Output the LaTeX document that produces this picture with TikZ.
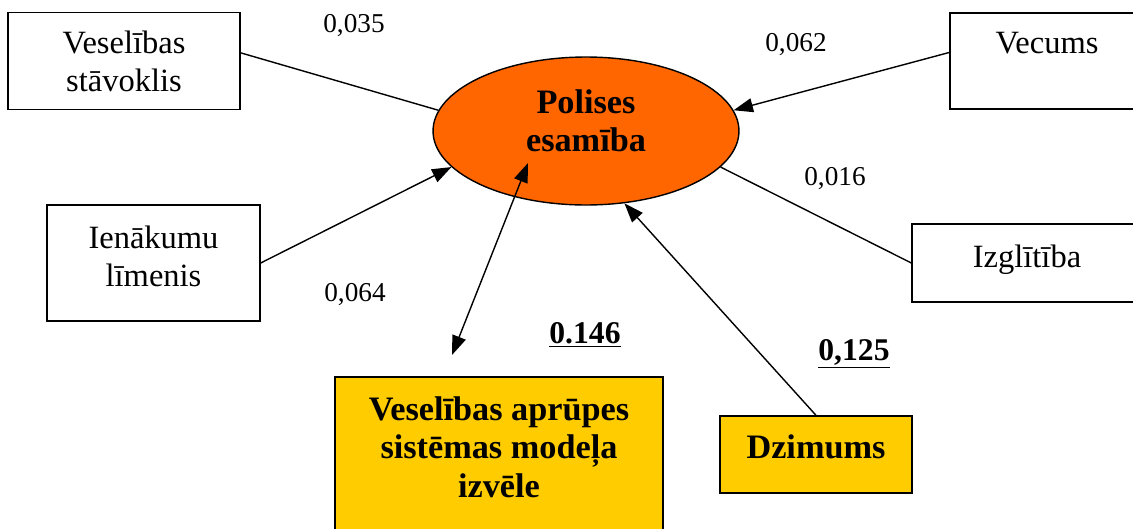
\documentclass[tikz,border=0pt]{standalone}
\usepackage{fontspec}
\setmainfont{Liberation Serif}
\usetikzlibrary{arrows.meta,shapes.geometric}
\definecolor{polorange}{HTML}{FF6600}
\definecolor{gold}{HTML}{FFCC00}

\begin{document}
\begin{tikzpicture}[x=0.02cm, y=-0.02cm,
  box/.style={draw, line width=0.8pt, align=center, inner sep=0pt, font=\fontsize{18.5}{21.5}\selectfont},
  oval/.style={draw, ellipse, fill=polorange, line width=0.8pt, align=center, inner sep=0pt, font=\fontsize{19.5}{21.5}\selectfont\bfseries},
  keybox/.style={box, fill=gold, font=\fontsize{19.5}{21.8}\selectfont\bfseries},
  coef/.style={anchor=base, inner sep=0pt, font=\fontsize{15.5}{18}\selectfont},
  keycoef/.style={coef, font=\fontsize{18}{21}\selectfont\bfseries},
  link/.style={line width=0.8pt},
  >={Triangle[length=11pt, width=8pt]}]
\clip (0,0) rectangle (1133,528);
\node[box, minimum width=4.64cm, minimum height=1.94cm] (stav) at (124,61) {Veselības\\stāvoklis};
\node[box, minimum width=3.88cm, minimum height=1.92cm, text depth=21pt] (vec) at (1047,61) {Vecums};
\node[box, minimum width=4.26cm, minimum height=2.32cm, text depth=8pt] (ien) at (153.5,263) {Ienākumu\\līmenis};
\node[box, minimum width=4.6cm, minimum height=1.56cm, text depth=8pt] (izg) at (1027,263) {Izglītība};
\node[oval, minimum width=6.12cm, minimum height=2.96cm, text depth=12pt] (pol) at (586,131) {Polises\\esamība};
\node[keybox, minimum width=6.56cm, minimum height=6cm, text depth=91pt] (model) at (499,527) {Veselības aprūpes\\sistēmas modeļa\\izvēle};
\node[keybox, minimum width=3.84cm, minimum height=1.54cm, text depth=9.3pt] (dzim) at (816,454.5) {Dzimums};
% koeficienti
\node[coef] (k035) at (354,32) {0,035};
\node[coef] (k062) at (796,51) {0,062};
\node[coef] (k016) at (835,185) {0,016};
\node[coef] (k064) at (355,301) {0,064};
\node[keycoef] (k146) at (585,343) {\underline{0.146}};
\node[keycoef] (k125) at (854,360) {\underline{0,125}};
\coordinate (p1) at (528,163);
\coordinate (m1) at (452,355);
\draw[link] (stav.4) -- (pol.172);
\draw[link,->] (vec.175) -- (pol.8);
\draw[link,->] (ien.east) -- (pol.195);
\draw[link] (pol.345) -- (izg.west);
\draw[link,->] (dzim.north) -- (pol.298);
\draw[link,<->] (m1) -- (p1);
\end{tikzpicture}
\end{document}
